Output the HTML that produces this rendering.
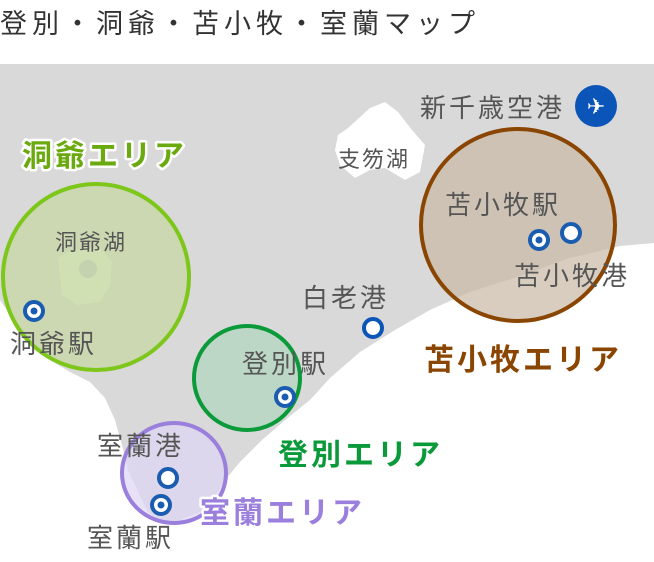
<!DOCTYPE html>
<html><head><meta charset="utf-8"><style>
body{margin:0;width:654px;height:562px;overflow:hidden;background:#fff;font-family:"Liberation Sans","Noto Sans CJK JP",sans-serif}
</style></head><body>
<svg width="654" height="562" xmlns="http://www.w3.org/2000/svg" style="position:absolute;left:0;top:0;font-family:'Liberation Sans','Noto Sans CJK JP',sans-serif">
<text x="0" y="33" font-size="27" letter-spacing="5" fill="#333">登別・洞爺・苫小牧・室蘭マップ</text>
<path d="M0,64 L654,64 L654,243 L620,246 L570,258 L520,276 L470,292 L430,310 L395,330 L360,352 L330,378 L310,400 L290,416 L262,440 L240,462 L225,480 L214,498 L200,512 L180,520 L160,522 L148,512 L140,496 L128,470 L122,445 L115,420 L105,398 L90,382 L70,372 L50,360 L30,340 L12,318 L0,300 Z" fill="#d9d9d9"/>
<path d="M338,135 L348,128 L370,108 L385,102 L398,112 L412,130 L425,145 L420,172 L405,180 L385,168 L370,170 L355,178 L340,165 L335,150 Z" fill="#fff"/>
<path d="M58,258 L72,250 L100,248 L112,262 L110,285 L100,302 L78,305 L62,295 Z" fill="#eef5e2"/>
<circle cx="96" cy="277" r="93" fill="#c4d7a0" fill-opacity="0.7" stroke="#7dc61a" stroke-width="4"/>
<circle cx="88" cy="269" r="9" fill="#c4d2b0"/>
<ellipse cx="247" cy="378" rx="53" ry="52" fill="#a8d6b8" fill-opacity="0.6" stroke="#0a9a3a" stroke-width="4"/>
<ellipse cx="174" cy="473" rx="52" ry="50" fill="#ddd6f4" fill-opacity="0.7" stroke="#9a7fdc" stroke-width="4"/>
<ellipse cx="518" cy="225" rx="97" ry="96" fill="#c8b8a4" fill-opacity="0.7" stroke="#8a4500" stroke-width="4"/>
<g fill="#fff" stroke="#1a5cb0" stroke-width="4">
<circle cx="34" cy="311" r="9"/><circle cx="285" cy="397" r="9"/><circle cx="161" cy="505" r="9"/><circle cx="539" cy="240" r="9"/>
<circle cx="373" cy="328" r="9" stroke="#0b55b8"/><circle cx="168" cy="478" r="9"/><circle cx="571" cy="233" r="9"/>
</g>
<g fill="#1a5cb0"><circle cx="34" cy="311" r="3.5"/><circle cx="285" cy="397" r="3.5"/><circle cx="161" cy="505" r="3.5"/><circle cx="539" cy="240" r="3.5"/></g>
<circle cx="596" cy="106" r="21" fill="#0b55b8"/>
<text x="596" y="114" font-size="22" fill="#fff" text-anchor="middle">✈</text>
<g fill="#555" font-size="26" letter-spacing="3">
<text x="420" y="117">新千歳空港</text>
<text x="338" y="167" font-size="22" letter-spacing="2">支笏湖</text>
<text x="55" y="250" font-size="22" letter-spacing="2">洞爺湖</text>
<text x="10" y="353">洞爺駅</text>
<text x="302" y="307">白老港</text>
<text x="242" y="373">登別駅</text>
<text x="97" y="455">室蘭港</text>
<text x="87" y="547">室蘭駅</text>
<text x="445" y="214">苫小牧駅</text>
<text x="514" y="285">苫小牧港</text>
</g>
<g font-size="30" font-weight="bold" letter-spacing="3" stroke="#fff" stroke-width="5" paint-order="stroke" stroke-linejoin="round">
<text x="22" y="166" fill="#6aaa0e">洞爺エリア</text>
<text x="424" y="370" fill="#8a4500">苫小牧エリア</text>
<text x="278" y="465" fill="#0a9a3a">登別エリア</text>
<text x="200" y="523" fill="#9a7fdc">室蘭エリア</text>
</g>
</svg>
</body></html>
